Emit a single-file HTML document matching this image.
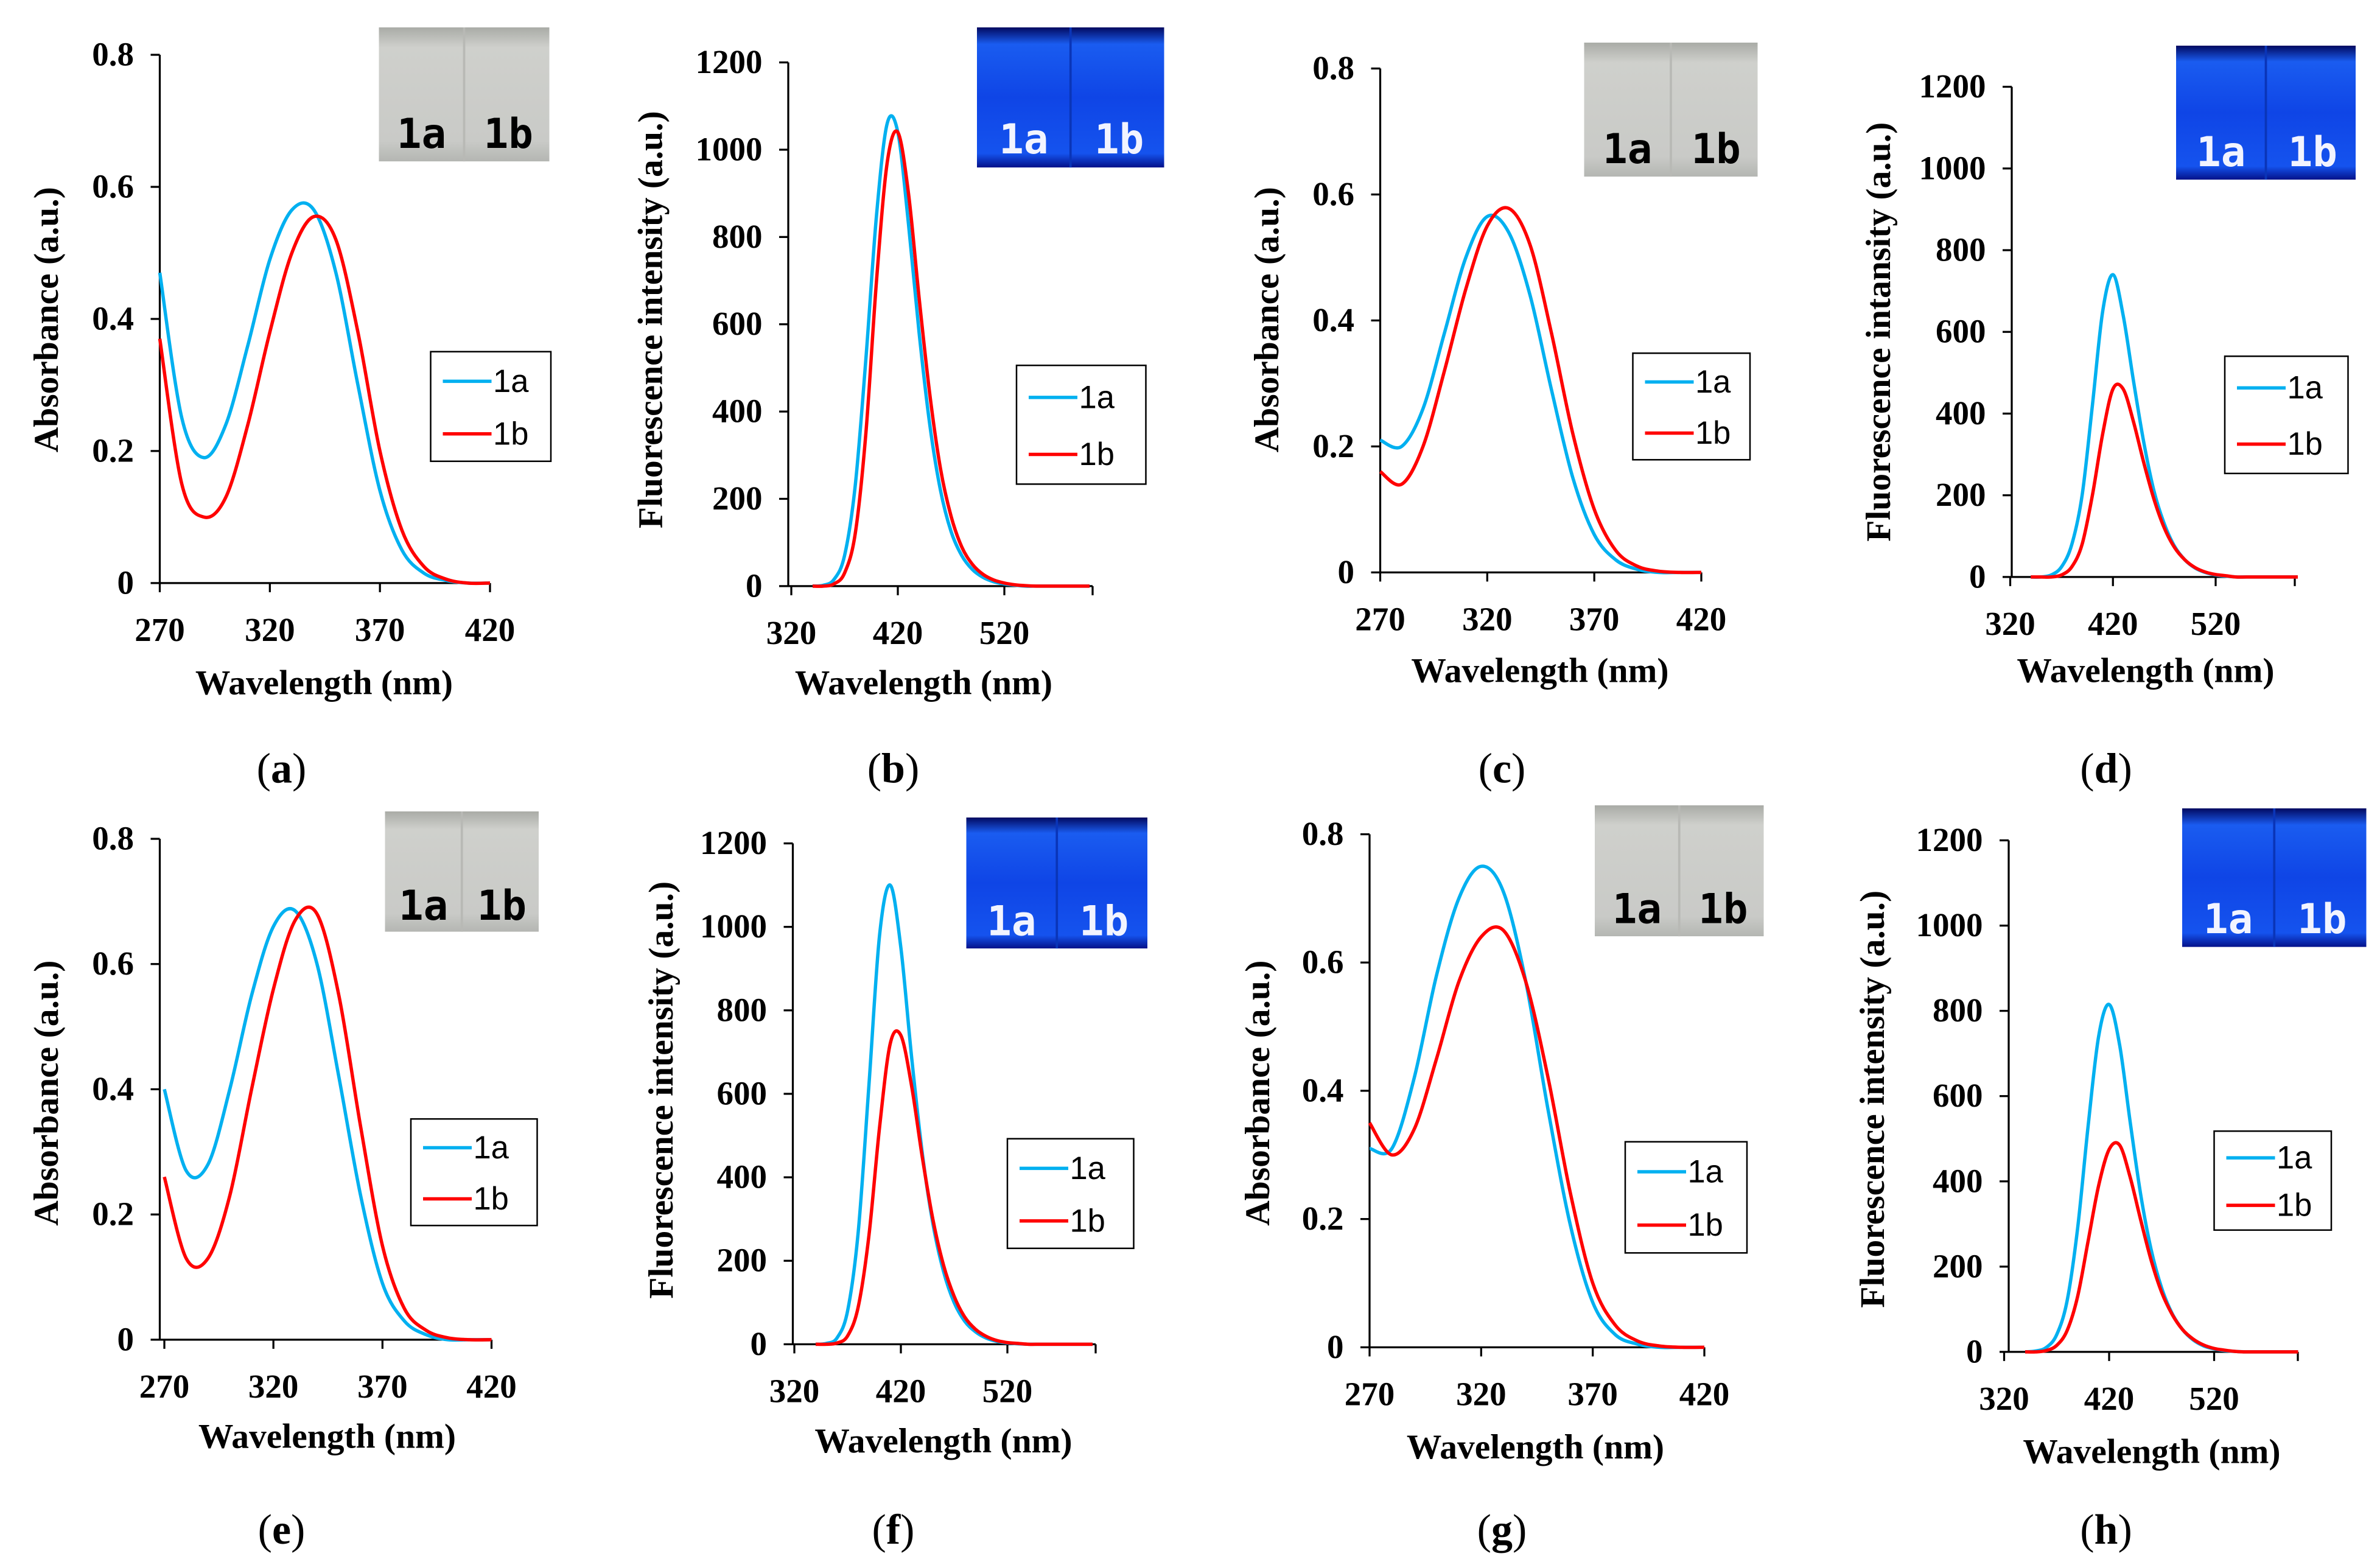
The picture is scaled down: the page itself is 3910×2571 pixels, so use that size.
<!DOCTYPE html>
<html><head><meta charset="utf-8"><style>
html,body{margin:0;padding:0;background:#fff;}
svg{display:block;}
.tk{font-family:"Liberation Serif",serif;font-weight:bold;font-size:22px;fill:#000;}
.ttl{font-family:"Liberation Serif",serif;font-weight:bold;font-size:23px;fill:#000;}
.lg{font-family:"Liberation Sans",sans-serif;font-size:21px;fill:#000;}
.cap{font-family:"Liberation Serif",serif;font-size:28px;fill:#000;}
.ph{font-family:"DejaVu Sans Mono","Liberation Mono",monospace;font-weight:bold;font-size:27px;}
</style></head><body>
<svg id="fig" width="3910" height="2571" viewBox="0 0 1564 1028" preserveAspectRatio="none" xmlns="http://www.w3.org/2000/svg">
<defs>
<linearGradient id="gray" x1="0" y1="0" x2="0" y2="1"><stop offset="0" stop-color="#a9aba6"/><stop offset="0.15" stop-color="#cfd0cc"/><stop offset="0.85" stop-color="#c9cac7"/><stop offset="1" stop-color="#b4b6b2"/></linearGradient>
<linearGradient id="blue" x1="0" y1="0" x2="0" y2="1"><stop offset="0" stop-color="#020a60"/><stop offset="0.12" stop-color="#1a5cf0"/><stop offset="0.5" stop-color="#0f45e6"/><stop offset="0.9" stop-color="#1553ee"/><stop offset="1" stop-color="#04118a"/></linearGradient>
</defs>
</svg>
<script>
// ---- data ----
const absX = [270,280,290,300,310,320,330,340,350,360,370,380,390,400,410,420];
const fluX = [340,350,360,370,380,390,400,410,420,430,440,450,460,470,480,490,500,510,520,530,540,550,560,570,580,590,600];
const absTicks = [0,0.2,0.4,0.6,0.8];
const absTickLabels = ["0","0.2","0.4","0.6","0.8"];
const absXTicks = [270,320,370,420];
const fluTicks = [0,200,400,600,800,1000,1200];
const fluXTicks = [320,420,520];
const a1a = [.47,.25,.19,.24,.36,.49,.565,.565,.47,.30,.14,.05,.015,.004,0,0];
const a1b = [.37,.15,.10,.13,.24,.38,.50,.555,.52,.38,.20,.08,.025,.006,0,0];
const b1a = [0,2,15,70,230,520,850,1060,1040,830,580,370,220,125,70,38,20,10,5,2,0,0,0,0,0,0,0];
const b1b = [0,0,5,30,120,350,700,970,1040,900,660,440,270,160,90,50,27,14,7,3,1,0,0,0,0,0,0];
const c1a = [.21,.20,.26,.38,.50,.565,.54,.44,.29,.15,.06,.02,.005,0,0,0];
const c1b = [.16,.14,.20,.32,.45,.55,.578,.52,.38,.22,.10,.035,.01,.002,0,0];
const d1a = [0,0,5,25,80,200,420,650,740,640,480,330,210,130,75,42,22,11,5,2,0,0,0,0,0,0,0];
const d1b = [0,0,0,5,25,80,200,350,460,460,380,280,190,120,72,42,23,12,6,3,0,0,0,0,0,0,0];
const e1a = [.40,.27,.28,.40,.55,.66,.685,.60,.42,.23,.09,.03,.008,0,0,0];
const e1b = [.26,.13,.13,.23,.40,.56,.67,.68,.55,.34,.15,.05,.015,.003,0,0];
const f1a = [0,2,15,80,270,620,980,1100,950,690,460,290,175,100,55,30,15,7,3,1,0,0,0,0,0,0,0];
const f1b = [0,0,3,20,90,260,520,720,740,620,450,300,190,115,65,36,19,9,4,2,0,0,0,0,0,0,0];
const g1a = [.31,.31,.42,.58,.70,.75,.71,.57,.37,.19,.07,.02,.005,0,0,0];
const g1b = [.35,.30,.34,.45,.57,.64,.65,.57,.42,.24,.10,.035,.01,.002,0,0];
const h1a = [0,2,10,40,120,290,530,740,815,720,540,370,240,150,90,52,28,14,7,3,1,0,0,0,0,0,0];
const h1b = [0,0,3,15,50,130,260,390,475,485,410,310,215,140,88,52,30,16,8,4,1,0,0,0,0,0,0];

const NS="http://www.w3.org/2000/svg";
const svg=document.getElementById('fig');
function mk(tag,attrs,parent,text){const e=document.createElementNS(NS,tag);for(const k in attrs)e.setAttribute(k,attrs[k]);if(text!==undefined)e.textContent=text;(parent||svg).appendChild(e);return e;}
function smooth(pts){let d="M"+pts[0][0].toFixed(2)+","+pts[0][1].toFixed(2);for(let i=0;i<pts.length-1;i++){const p0=pts[Math.max(0,i-1)],p1=pts[i],p2=pts[i+1],p3=pts[Math.min(pts.length-1,i+2)];const c1x=p1[0]+(p2[0]-p0[0])/6,c1y=p1[1]+(p2[1]-p0[1])/6,c2x=p2[0]-(p3[0]-p1[0])/6,c2y=p2[1]-(p3[1]-p1[1])/6;d+=" C"+c1x.toFixed(2)+","+c1y.toFixed(2)+" "+c2x.toFixed(2)+","+c2y.toFixed(2)+" "+p2[0].toFixed(2)+","+p2[1].toFixed(2);}return d;}

const panels=[
 {id:'a',type:'abs',ax:105,x0:270,x1:420,px0:105,px1:322,axEnd:322,y0:383,yTop:36,ymax:0.8,s1:a1a,s2:a1b,leg:[283,231,79,72],ph:[249,18,112,88],yt:[30,210],xt:[213,448],cap:[185,505]},
 {id:'b',type:'flu',ax:518,x0:320,x1:520,px0:520,px1:660,axEnd:718,y0:385,yTop:41,ymax:1200,s1:b1a,s2:b1b,leg:[668,240,85,78],ph:[642,18,123,92],yt:[427,210],xt:[607,448],cap:[587,505]},
 {id:'c',type:'abs',ax:907,x0:270,x1:420,px0:907,px1:1118,axEnd:1118,y0:376,yTop:45,ymax:0.8,s1:c1a,s2:c1b,leg:[1073,232,77,70],ph:[1041,28,114,88],yt:[832,210],xt:[1012,440],cap:[987,505]},
 {id:'d',type:'flu',ax:1322,x0:320,x1:520,px0:1321,px1:1456,axEnd:1508,y0:379,yTop:57,ymax:1200,s1:d1a,s2:d1b,leg:[1462,234,81,77],ph:[1430,30,118,88],yt:[1234,218],xt:[1410,440],cap:[1384,505]},
 {id:'e',type:'abs',ax:105,x0:270,x1:420,px0:108,px1:323,axEnd:323,y0:880,yTop:551,ymax:0.8,s1:e1a,s2:e1b,leg:[270,735,83,70],ph:[253,533,101,79],yt:[30,718],xt:[215,943],cap:[185,1005]},
 {id:'f',type:'flu',ax:521,x0:320,x1:520,px0:522,px1:662,axEnd:720,y0:883,yTop:554,ymax:1200,s1:f1a,s2:f1b,leg:[662,748,83,72],ph:[635,537,119,86],yt:[434,716],xt:[620,946],cap:[587,1005]},
 {id:'g',type:'abs',ax:900,x0:270,x1:420,px0:900,px1:1120,axEnd:1120,y0:885,yTop:548,ymax:0.8,s1:g1a,s2:g1b,leg:[1068,750,80,73],ph:[1048,529,111,86],yt:[826,718],xt:[1009,950],cap:[987,1005]},
 {id:'h',type:'flu',ax:1320,x0:320,x1:520,px0:1317,px1:1455,axEnd:1510,y0:888,yTop:552,ymax:1200,s1:h1a,s2:h1b,leg:[1455,743,77,65],ph:[1434,531,121,91],yt:[1230,722],xt:[1414,953],cap:[1384,1005]}
];

panels.forEach(p=>{
 const g=mk('g',{});
 
 
 const sx=v=>p.px0+(v-p.x0)*(p.px1-p.px0)/(p.x1-p.x0);
 const sy=v=>p.y0-(v/p.ymax)*(p.y0-p.yTop);
 const ya=mk('line',{x1:p.ax,y1:p.yTop,x2:p.ax,y2:p.y0,stroke:'#000','stroke-width':1.3},g);
 
 
 const xa=mk('line',{x1:p.ax,y1:p.y0,x2:p.axEnd,y2:p.y0,stroke:'#000','stroke-width':1.3},g);
 
 
 const yt=p.type==='abs'?absTicks:fluTicks;
 yt.forEach((v,i)=>{
  mk('line',{x1:p.ax-6,y1:sy(v),x2:p.ax,y2:sy(v),stroke:'#000','stroke-width':1.3},g);
  const t=mk('text',{x:p.ax-17,y:sy(v)+7,'text-anchor':'end',class:'tk'},g,p.type==='abs'?absTickLabels[i]:String(v));
  
  
 });
 const xt=p.type==='abs'?absXTicks:fluXTicks;
 xt.forEach(v=>{
  mk('line',{x1:sx(v),y1:p.y0,x2:sx(v),y2:p.y0+6,stroke:'#000','stroke-width':1.3},g);
  const t=mk('text',{x:sx(v),y:p.y0+38,'text-anchor':'middle',class:'tk'},g,String(v));
  
  
 });
 if(p.type==='flu'){mk('line',{x1:p.axEnd,y1:p.y0,x2:p.axEnd,y2:p.y0+6,stroke:'#000','stroke-width':1.3},g);}
 const xtl=mk('text',{x:p.xt[0],y:p.xt[1]+8,'text-anchor':'middle',class:'ttl'},g,'Wavelength (nm)');
 
 
 const ytl=mk('text',{x:0,y:0,'text-anchor':'middle',class:'ttl',transform:'translate('+(p.yt[0]+8)+','+p.yt[1]+') rotate(-90)'},g,p.type==='abs'?'Absorbance (a.u.)':(p.id==='d'?'Fluorescence intansity  (a.u.)':'Fluorescence intensity  (a.u.)'));
 
 
 const xs=p.type==='abs'?absX:fluX;
 [[p.s1,'#00b0f0','1a'],[p.s2,'#ff0000','1b']].forEach(([s,c,n])=>{
  const pts=xs.map((x,i)=>[sx(x),sy(s[i])]);
  const path=mk('path',{d:smooth(pts),fill:'none',stroke:c,'stroke-width':2.2},g);
  
  
 });
 const [lx,ly,lw,lh]=p.leg;
 const lgd=mk('g',{},g);
 
 
 mk('rect',{x:lx,y:ly,width:lw,height:lh,fill:'#fff',stroke:'#000','stroke-width':1},lgd);
 [['#00b0f0','1a'],['#ff0000','1b']].forEach(([c,n],i)=>{
  const yy=ly+lh*(i===0?0.27:0.75);
  const e=mk('g',{},lgd);
  
  
  mk('line',{x1:lx+8,y1:yy,x2:lx+40,y2:yy,stroke:c,'stroke-width':2.2},e);
  mk('text',{x:lx+41,y:yy+7,class:'lg'},e,n);
 });
 const [px,py,pw,phh]=p.ph;
 const phg=mk('g',{},g);
 
 
 const isA=p.type==='abs';
 mk('rect',{x:px,y:py,width:pw,height:phh,fill:isA?'url(#gray)':'url(#blue)'},phg);
 mk('line',{x1:px+pw/2,y1:py,x2:px+pw/2,y2:py+phh,stroke:isA?'#b8b9b5':'#0a35b8','stroke-width':1.5},phg);
 mk('text',{x:px+pw*0.25,y:py+phh*0.9,'text-anchor':'middle',class:'ph',fill:isA?'#000':'#f2f4ff'},phg,'1a');
 mk('text',{x:px+pw*0.76,y:py+phh*0.9,'text-anchor':'middle',class:'ph',fill:isA?'#000':'#f2f4ff'},phg,'1b');
 const cap=mk('text',{x:p.cap[0],y:p.cap[1]+9,'text-anchor':'middle',class:'cap'},g);
 
 
 mk('tspan',{},cap,'(');
 mk('tspan',{'font-weight':'bold'},cap,p.id);
 mk('tspan',{},cap,')');
});
</script>
</body></html>
